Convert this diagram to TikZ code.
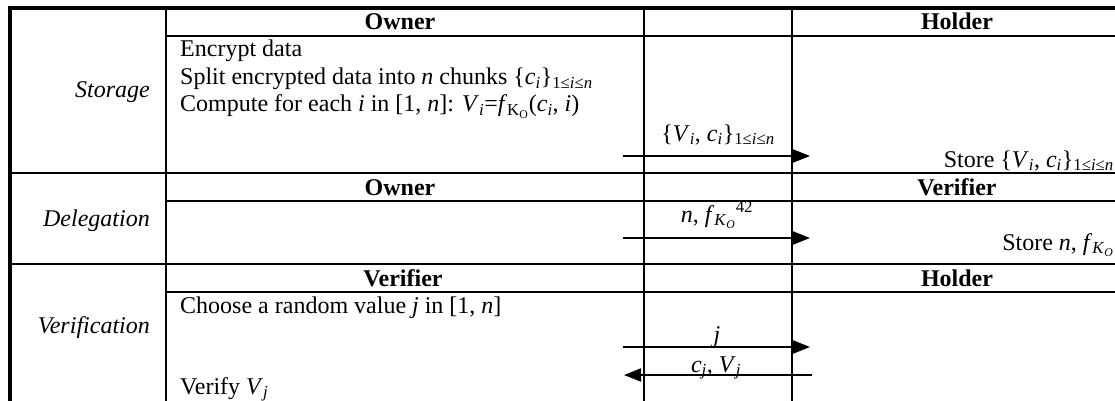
\documentclass[tikz,border=0pt]{standalone}
\usepackage{fontspec}
\setmainfont{Liberation Serif}
\usetikzlibrary{arrows.meta}
\newcommand{\mysub}[1]{\textsubscript{#1}}
\newcommand{\mysup}[1]{\textsuperscript{#1}}
\begin{document}
\begin{tikzpicture}[x=1pt,y=-1pt,
  base/.style={font=\fontsize{24}{27.6}\selectfont, inner sep=0pt},
  txt/.style={base, anchor=base west},
  rtxt/.style={base, anchor=base east},
  hdr/.style={base, font=\fontsize{24}{27.6}\selectfont\bfseries, anchor=base},
  phase/.style={base, font=\fontsize{24}{27.6}\selectfont\itshape, anchor=base east},
  lbl/.style={base, anchor=base},
  border/.style={line width=4pt},
  rowline/.style={line width=2.8pt},
  colline/.style={line width=2.4pt},
  thinline/.style={line width=1.3pt},
  msg/.style={line width=2pt, -{Triangle[length=17pt,width=13pt]}}]
\useasboundingbox (0,0) rectangle (1115,401);
% frame and grid
\draw[border] (8,8) -- (1115,8);
\draw[border] (10,6) -- (10,401);
\draw[colline] (166,8) -- (166,401);
\draw[colline] (644,8) -- (644,401);
\draw[thinline] (792,8) -- (792,401);
\draw[rowline] (166,36) -- (1115,36);
\draw[rowline] (10,173) -- (1115,173);
\draw[rowline] (166,201) -- (1115,201);
\draw[rowline] (10,264) -- (1115,264);
\draw[rowline] (166,292) -- (1115,292);
% Storage
\node[hdr] (own1) at (400,30) {Owner};
\node[hdr] (hol1) at (957,30) {Holder};
\node[phase] (stor) at (150,98) {Storage};
\node[txt] (enc) at (180,57) {Encrypt data};
\node[txt] (spl) at (180,85) {Split encrypted data into \textit{n} chunks \{\textit{c}\mysub{\textit{i}}\}\mysub{1≤\textit{i}≤\textit{n}}};
\node[txt] (cmp) at (180,112) {Compute for each \textit{i} in [1, \textit{n}]: \textit{V}\mysub{\textit{i}}=\textit{f}\mysub{K\mysub{O}}(\textit{c}\mysub{\textit{i}}, \textit{i})};
\node[lbl] (m1) at (718,141) {\{\textit{V}\mysub{\textit{i}}, \textit{c}\mysub{\textit{i}}\}\mysub{1≤\textit{i}≤\textit{n}}};
\node[rtxt] (st1) at (1114,167) {Store \{\textit{V}\mysub{\textit{i}}, \textit{c}\mysub{\textit{i}}\}\mysub{1≤\textit{i}≤\textit{n}}};
\coordinate (a1s) at (623,156);
\coordinate (a1e) at (810,156);
\draw[msg] (a1s) -- (a1e);
% Delegation
\node[hdr] (own2) at (400,195) {Owner};
\node[hdr] (ver2) at (957,195) {Verifier};
\node[phase] (dele) at (150,226) {Delegation};
\node[lbl] (m2) at (717,222) {\textit{n}, \textit{f}\mysub{\textit{K}\mysub{\textit{O}}}\mysup{42}};
\node[rtxt] (st2) at (1114,250) {Store \textit{n}, \textit{f}\mysub{\textit{K}\mysub{\textit{O}}}};
\coordinate (a2s) at (623,238);
\coordinate (a2e) at (810,238);
\draw[msg] (a2s) -- (a2e);
% Verification
\node[hdr] (ver3) at (403,286) {Verifier};
\node[hdr] (hol3) at (957,286) {Holder};
\node[phase] (veri) at (150,333) {Verification};
\node[txt] (cho) at (180,313) {Choose a random value \textit{j} in [1, \textit{n}]};
\node[txt] (vfy) at (180,394) {Verify \textit{V}\mysub{\textit{j}}};
\node[lbl] (m3) at (717,342) {\textit{j}};
\node[lbl] (m4) at (716,372) {\textit{c}\mysub{\textit{j}}, \textit{V}\mysub{\textit{j}}};
\coordinate (a3s) at (623,347);
\coordinate (a3e) at (810,347);
\coordinate (a4s) at (812,375);
\coordinate (a4e) at (624,375);
\draw[msg] (a3s) -- (a3e);
\draw[msg] (a4s) -- (a4e);
\end{tikzpicture}
\end{document}
